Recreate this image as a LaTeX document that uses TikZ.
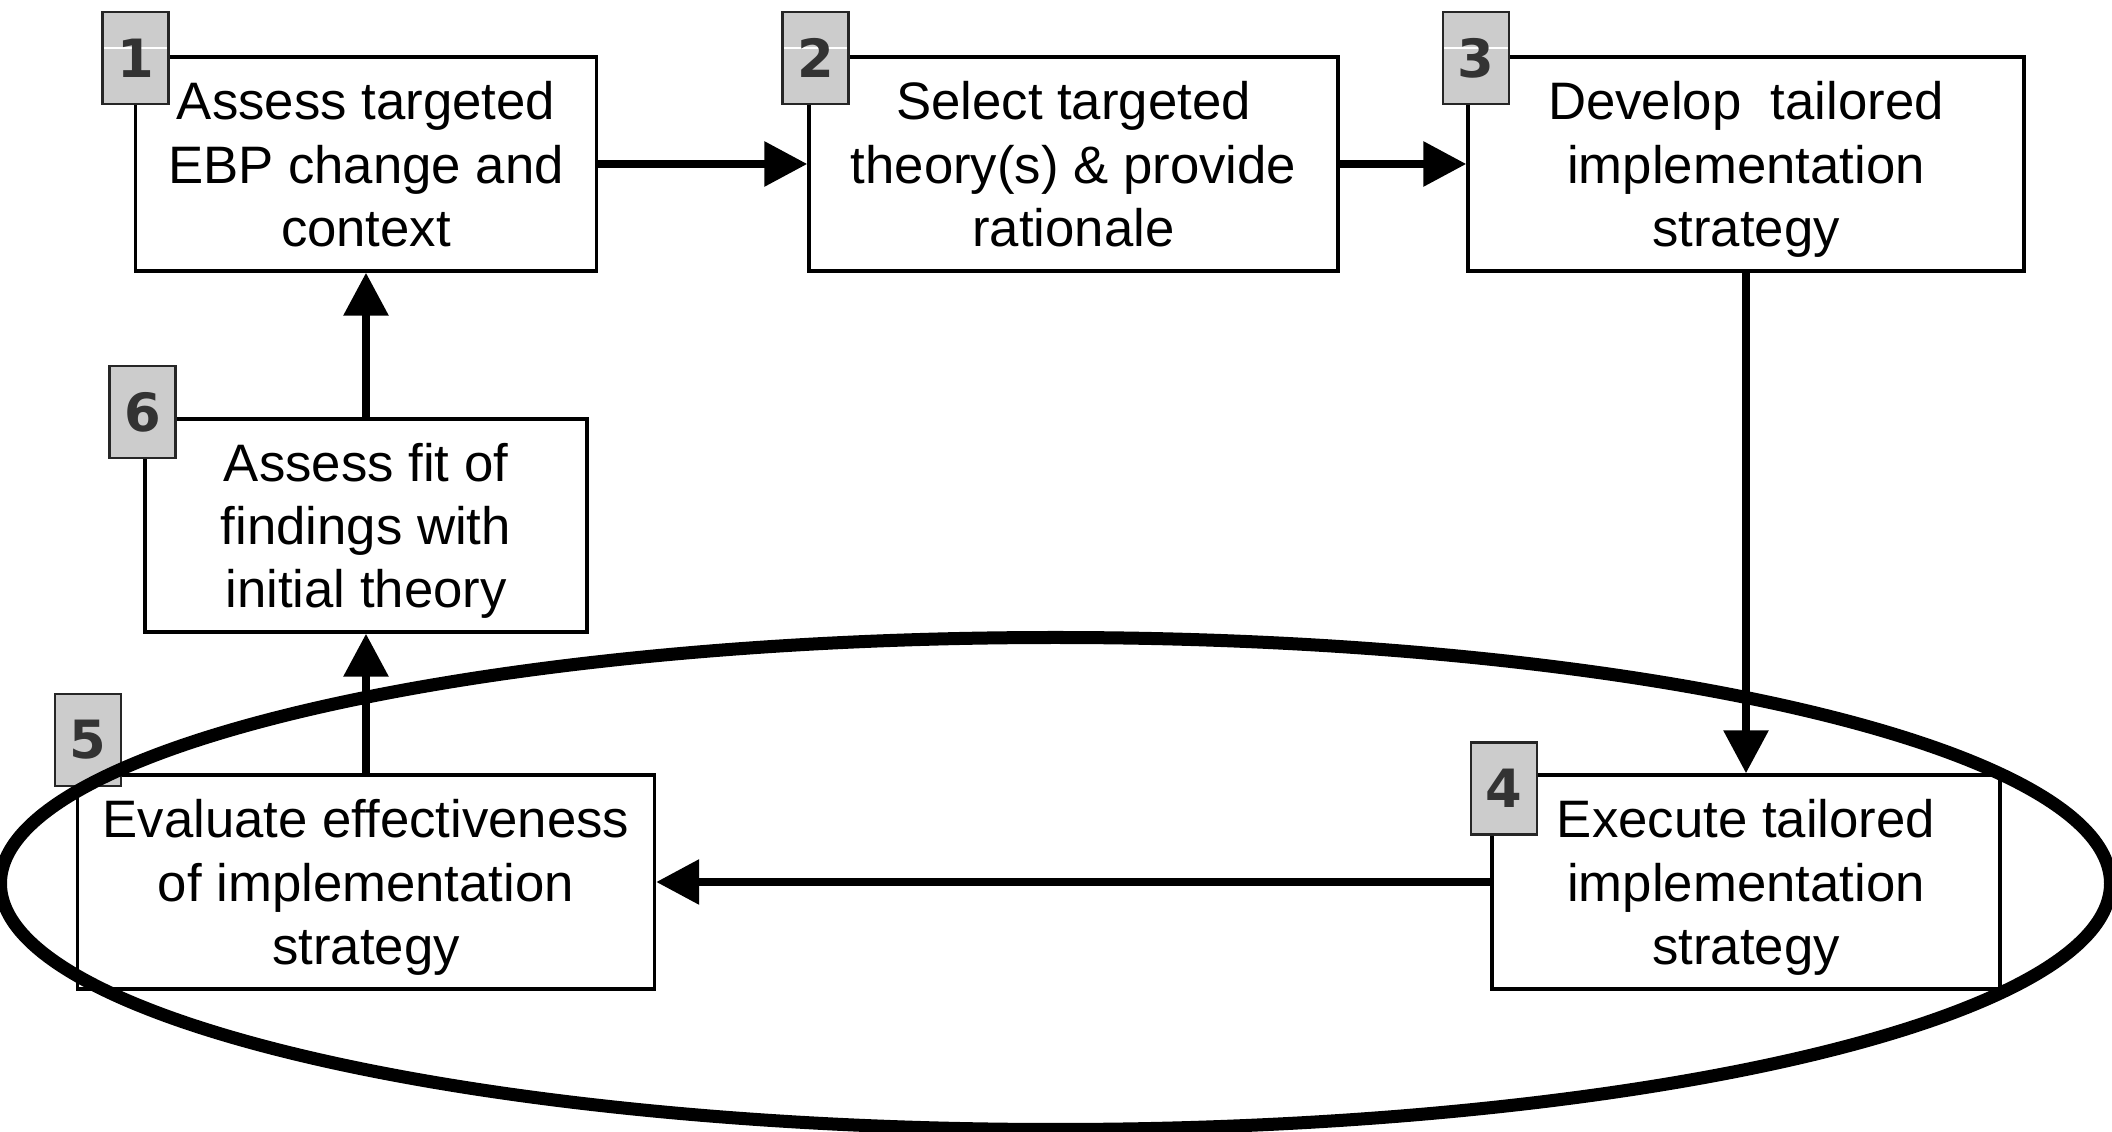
\documentclass[tikz,border=0pt]{standalone}
\usepackage{fontspec}
\setmainfont{Liberation Sans}
\newfontfamily\tagfont{DejaVu Sans}
\usetikzlibrary{arrows.meta}

\begin{document}
\begin{tikzpicture}
  [stage/.style={rectangle, draw, fill=white, line width=0.9pt, inner sep=0pt,
     minimum height=2.14cm, align=center, text depth=0pt, font=\fontsize{15}{18}\selectfont},
   numtag/.style={rectangle, draw=black!85, fill=black!20, line width=0.6pt, inner sep=0pt,
     minimum width=0.66cm, minimum height=0.92cm, text=black!80,
     font=\tagfont\bfseries\fontsize{15}{16}\selectfont},
   glint/.style={path picture={\draw[white, line width=0.4pt]
     ([yshift=0.1cm]path picture bounding box.west) -- ([yshift=0.1cm]path picture bounding box.east);}},
   flow/.style={line width=2.5pt, -{Triangle[length=0.43cm, width=0.43cm]}}]
  \useasboundingbox (0,0) rectangle (21.12,11.31);

  \node[stage, minimum width=4.61cm] (s1) at (3.66,9.67)  {Assess targeted\\EBP change and\\context};
  \node[stage, minimum width=5.29cm] (s2) at (10.735,9.67) {Select targeted\\theory(s) \& provide\\rationale};
  \node[stage, minimum width=5.56cm] (s3) at (17.46,9.67) {Develop~~tailored\\implementation\\strategy};
  \node[stage, minimum width=5.08cm] (s4) at (17.46,2.49) {Execute tailored\\implementation\\strategy};
  \node[stage, minimum width=5.77cm] (s5) at (3.66,2.49)  {Evaluate effectiveness\\of implementation\\strategy};
  \node[stage, minimum width=4.42cm, minimum height=2.13cm] (s6) at (3.66,6.055) {Assess fit of\\findings with\\initial theory};

  \foreach \from/\to in {s1/s2,s2/s3,s3/s4,s4/s5,s5/s6,s6/s1}
    \draw[flow] (\from) -- (\to);

  \node[numtag, glint] (t1) at (1.355,10.73) {1};
  \node[numtag, glint] (t2) at (8.155,10.73) {2};
  \node[numtag, glint] (t3) at (14.76,10.73) {3};
  \node[numtag] (t4) at (15.04,3.425) {4};
  \node[numtag] (t5) at (0.88,3.91)   {5};
  \node[numtag] (t6) at (1.425,7.19)  {6};

  \draw[line width=3.7pt] (10.555,2.475) ellipse [x radius=10.55, y radius=2.46];

\end{tikzpicture}
\end{document}
